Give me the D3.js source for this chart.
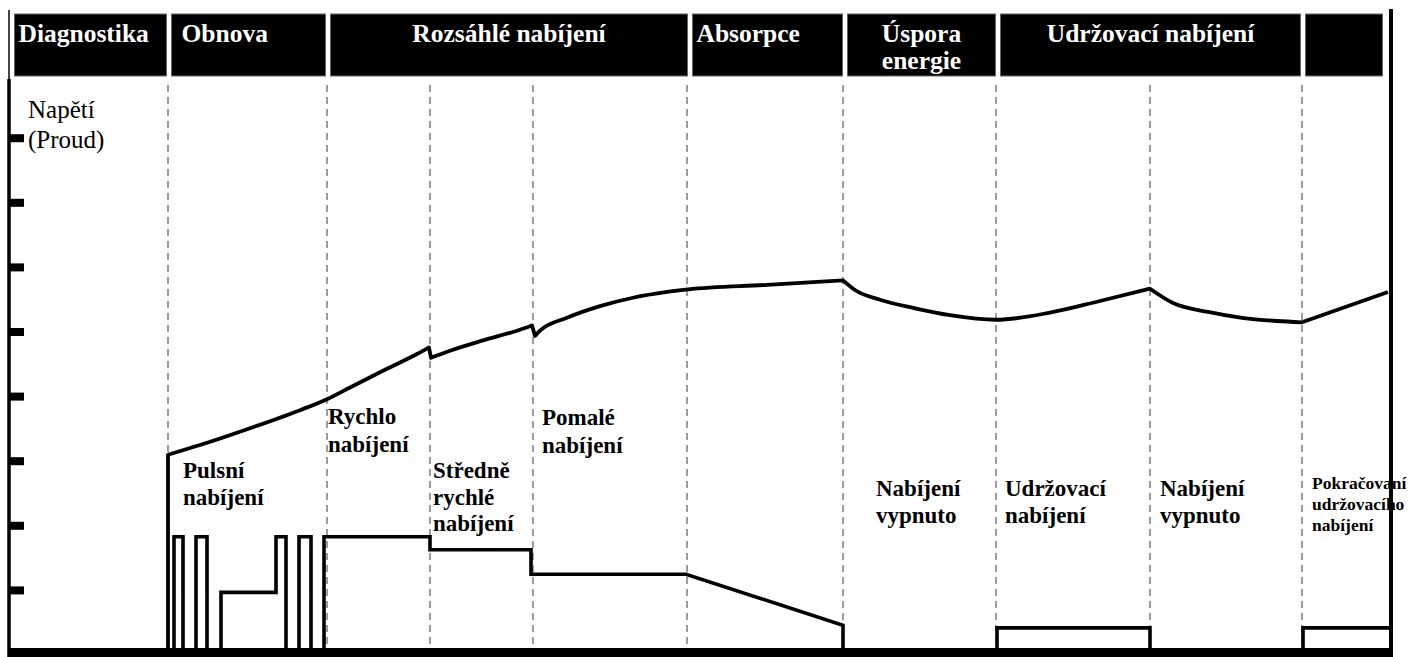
<!DOCTYPE html>
<html>
<head>
<meta charset="utf-8">
<script src="https://cdn.jsdelivr.net/npm/d3@7"></script>
<style>
  html, body { margin: 0; padding: 0; background: #fff; }
  svg { display: block; }
</style>
</head>
<body>
<svg id="chart" width="1423" height="657"></svg>
<script>
// ---------------- DATA ----------------
const phaseNames = ["Diagnostika", "Obnova", "Rozsáhlé nabíjení", "Absorpce", "Úspora\nenergie", "Udržovací nabíjení", ""];
const phaseBounds = [2, 159, 318, 680, 835, 988, 1293, 1375];
const gridTimes = [158, 317, 420, 523, 677, 833, 986, 1140, 1292];
const yTicks = [1, 2, 3, 4, 5, 6, 7, 8];
const axisLabel = ["Napětí", "(Proud)"];

// voltage curve (time, value)
const voltageT = [158, 158, 190, 240, 290, 317, 340, 373, 407, 419, 421, 440, 473, 507, 522, 525, 530, 557, 590, 623, 657, 678, 757, 833, 845, 870, 904, 940, 986, 1040, 1090, 1140, 1163, 1198, 1232, 1267, 1292, 1378];
const voltageV = [0, 3.10, 3.25, 3.51, 3.79, 3.96, 4.14, 4.40, 4.66, 4.76, 4.60, 4.71, 4.87, 5.02, 5.10, 4.94, 5.02, 5.22, 5.40, 5.53, 5.62, 5.66, 5.73, 5.80, 5.65, 5.50, 5.37, 5.26, 5.19, 5.30, 5.48, 5.67, 5.45, 5.31, 5.22, 5.17, 5.15, 5.62];
// indices where the voltage curve has a sharp corner
const voltageCorners = [1, 9, 10, 14, 15, 23, 31, 36];

// current trace (time, value)
const currentT = [164, 164, 173, 173, 186, 186, 197, 197, 211, 211, 266, 266, 276, 276, 289, 289, 301, 301, 314, 314, 420, 420, 521, 521, 676, 833, 833, 987, 987, 1140, 1140, 1293, 1293, 1380];
const currentV = [0, 1.83, 1.83, 0, 0, 1.83, 1.83, 0, 0, 0.97, 0.97, 1.83, 1.83, 0, 0, 1.83, 1.83, 0, 0, 1.83, 1.83, 1.63, 1.63, 1.25, 1.25, 0.46, 0, 0, 0.42, 0.42, 0, 0, 0.42, 0.42];

const stageTexts = [
  ["Pulsní", "nabíjení"],
  ["Rychlo", "nabíjení"],
  ["Středně", "rychlé", "nabíjení"],
  ["Pomalé", "nabíjení"],
  ["Nabíjení", "vypnuto"],
  ["Udržovací", "nabíjení"],
  ["Nabíjení", "vypnuto"],
  ["Pokračovaní", "udržovacího", "nabíjení"]
];

// ---------------- SCALES ----------------
const svg = d3.select("#chart");
const x = d3.scaleLinear().domain([0, 1380]).range([10, 1390]);
const y = d3.scaleLinear().domain([0, 10]).range([655, 9]);
const serif = "'Liberation Serif', 'Times New Roman', serif";

// dashed phase grid lines
svg.append("g").selectAll("line").data(gridTimes).join("line")
  .attr("x1", d => x(d)).attr("x2", d => x(d))
  .attr("y1", 85).attr("y2", 648)
  .attr("stroke", "#9c9c9c").attr("stroke-width", 2)
  .attr("stroke-dasharray", "7,5");

// header boxes
const phases = phaseNames.map((n, i) => ({ name: n, t0: phaseBounds[i], t1: phaseBounds[i + 1], i }));
const hdr = svg.append("g");
hdr.selectAll("rect").data(phases).join("rect")
  .attr("x", d => x(d.t0) + 2.5)
  .attr("width", d => x(d.t1) - x(d.t0) - 5)
  .attr("y", 14).attr("height", 62)
  .attr("fill", "#000").attr("stroke", "#666").attr("stroke-width", 1);

const headerAlign = ["start", "start", "middle", "start", "middle", "middle", "middle"];
const headerPad = [4, 10, 0, 4, 0, 0, 0];
phases.forEach(p => {
  const a = headerAlign[p.i];
  const cx = a === "middle" ? (x(p.t0) + x(p.t1)) / 2 : x(p.t0) + 2.5 + headerPad[p.i];
  const lines = p.name.split("\n");
  const t = hdr.append("text")
    .attr("x", cx).attr("y", 42)
    .attr("text-anchor", a)
    .attr("font-family", serif).attr("font-weight", "bold")
    .attr("font-size", 25.5).attr("fill", "#fff");
  lines.forEach((l, k) => t.append("tspan").attr("x", cx).attr("dy", k === 0 ? 0 : 27).text(l));
});

// left axis line
svg.append("line").attr("x1", 9).attr("x2", 9).attr("y1", 10).attr("y2", 79)
  .attr("stroke", "#444").attr("stroke-width", 2);
svg.append("line").attr("x1", 9).attr("x2", 9).attr("y1", 79).attr("y2", 657)
  .attr("stroke", "#000").attr("stroke-width", 3.5);

// right border
svg.append("line").attr("x1", 1391).attr("x2", 1391).attr("y1", 9).attr("y2", 657)
  .attr("stroke", "#000").attr("stroke-width", 4);

// y ticks (thick stubs)
svg.append("g").selectAll("rect").data(yTicks).join("rect")
  .attr("x", 8).attr("width", 16)
  .attr("y", d => y(d) - 4).attr("height", 8)
  .attr("fill", "#000");

// axis label
const al = svg.append("text").attr("font-family", serif).attr("font-size", 25).attr("fill", "#000");
axisLabel.forEach((l, k) => al.append("tspan").attr("x", 28).attr("y", 118 + k * 30).text(l));

// voltage line: smooth pieces between corners
const vData = voltageT.map((t, i) => [t, voltageV[i]]);
const cData = currentT.map((t, i) => [t, currentV[i]]);
const smooth = d3.line().x(d => x(d[0])).y(d => y(d[1])).curve(d3.curveMonotoneX);
const straight = d3.line().x(d => x(d[0])).y(d => y(d[1])).curve(d3.curveLinear);

const breaks = [0, ...voltageCorners, vData.length - 1];
let vPath = "";
for (let s = 0; s < breaks.length - 1; s++) {
  const seg = vData.slice(breaks[s], breaks[s + 1] + 1);
  const gen = seg.length > 2 && seg[0][0] !== seg[1][0] ? smooth : straight;
  let d = gen(seg);
  if (s > 0) d = "L" + d.slice(1);
  vPath += d;
}
svg.append("path").attr("d", vPath)
  .attr("fill", "none").attr("stroke", "#000").attr("stroke-width", 3.8)
  .attr("stroke-linejoin", "round");
svg.append("path").attr("d", straight(cData))
  .attr("fill", "none").attr("stroke", "#000").attr("stroke-width", 3.6)
  .attr("stroke-linejoin", "miter");

// baseline
svg.append("line").attr("x1", 8).attr("x2", 1393).attr("y1", 652.5).attr("y2", 652.5)
  .attr("stroke", "#000").attr("stroke-width", 9);

// stage labels
const labelPlace = [
  { t: 173, y0: 478, dy: 27, fs: 23 },
  { t: 318, y0: 424, dy: 28, fs: 23 },
  { t: 423, y0: 478, dy: 26.5, fs: 23 },
  { t: 532, y0: 425, dy: 27.5, fs: 23 },
  { t: 866, y0: 496, dy: 27, fs: 23 },
  { t: 995, y0: 496, dy: 27, fs: 23 },
  { t: 1150, y0: 496, dy: 27, fs: 23 },
  { t: 1302, y0: 489, dy: 21, fs: 17.5 }
];
const lg = svg.append("g");
stageTexts.forEach((lines, i) => {
  const p = labelPlace[i];
  const t = lg.append("text").attr("font-family", serif).attr("font-weight", "bold")
    .attr("font-size", p.fs).attr("fill", "#000");
  lines.forEach((l, k) => t.append("tspan").attr("x", x(p.t)).attr("y", p.y0 + k * p.dy).text(l));
});

// right border drawn over the last label as in the original
svg.append("line").attr("x1", 1391).attr("x2", 1391).attr("y1", 80).attr("y2", 657)
  .attr("stroke", "#000").attr("stroke-width", 4);
</script>
</body>
</html>
